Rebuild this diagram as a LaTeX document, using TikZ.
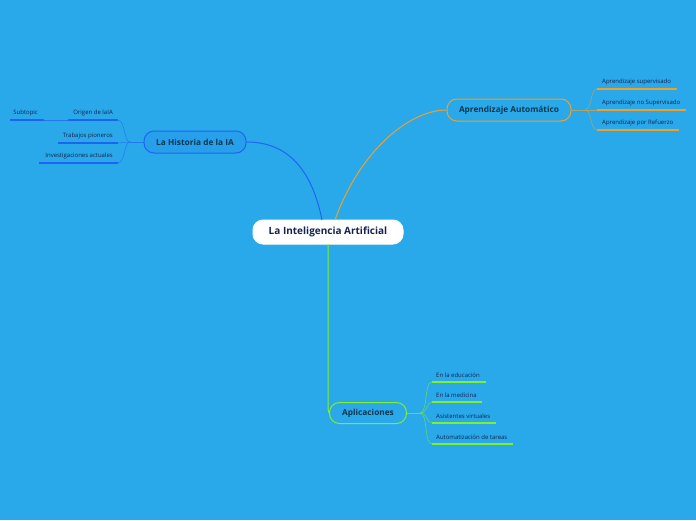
\documentclass[tikz,border=0pt]{standalone}
\usepackage{fontspec}
\setmainfont{Open Sans}
\definecolor{bgblue}{RGB}{41,169,234}
\definecolor{histblue}{RGB}{30,100,240}
\definecolor{aprorange}{RGB}{240,160,40}
\definecolor{apgreen}{RGB}{130,240,40}
\definecolor{navytext}{RGB}{20,35,80}
\definecolor{tealtext}{RGB}{10,55,80}
\begin{document}
\begin{tikzpicture}
[x=1pt,y=-1pt,%
  topic/.style={shape=rectangle,rounded corners=10pt,line width=1pt,minimum height=22pt,
    inner xsep=6pt,text=tealtext,font=\fontsize{8.3}{10}\selectfont\bfseries},%
  sub/.style={inner sep=1pt,text=navytext,font=\fontsize{6}{7}\selectfont},%
  subl/.style={sub,anchor=south east},%
  subr/.style={sub,anchor=south west},%
  uline/.style={line width=1.4pt},%
  twig/.style={line width=0.5pt,opacity=0.7}]
\fill[bgblue] (0,0) rectangle (696,520);
% central topic
\node[topic,fill=white,draw=white,minimum width=150pt,minimum height=24pt,
  text=navytext,font=\fontsize{10}{12}\selectfont\bfseries] (ia) at (328,232) {La Inteligencia Artificial};
% main topics
\node[topic,draw=histblue,fill=bgblue!85!histblue,minimum width=102pt] (hist) at (195,142) {La Historia de la IA};
\node[topic,draw=aprorange,fill=bgblue,minimum width=124pt] (apr) at (509,110) {Aprendizaje Automático};
\node[topic,draw=apgreen,fill=bgblue,minimum width=77pt,minimum height=21pt] (apl) at (368,413) {Aplicaciones};
\coordinate (iah) at (322,220);
\coordinate (iaa) at (335,220);
\coordinate (iap) at (328,244);
\draw[histblue,line width=1pt] (iah) .. controls (310,160) and (280,142) .. (hist.east);
\draw[aprorange,line width=1pt] (iaa) .. controls (360,150) and (410,110) .. (apr.west);
\draw[apgreen,line width=1pt] (iap) -- (328,403) .. controls (328,410) .. (apl.west);
% La Historia de la IA
\coordinate (hb) at (130,142);
\coordinate (h1) at (118,120); \coordinate (h1s) at (68,120);
\coordinate (h2) at (118,143); \coordinate (h2s) at (58,143);
\coordinate (h3) at (118,163); \coordinate (h3s) at (39,163);
\coordinate (h0) at (44,120);  \coordinate (h0s) at (10,120);
\node[subl] (origen) at (114,117) {Origen de laIA};
\node[subl] (pion) at (114,140) {Trabajos pioneros};
\node[subl] (inv) at (114,160) {Investigaciones actuales};
\node[subl] (subt) at (39,117) {Subtopic};
\draw[histblue,twig] (hist.west) -- (hb);
\draw[histblue,twig] (hb) .. controls (124,142) and (125,120) .. (h1);
\draw[histblue,twig] (hb) .. controls (124,142) and (124,143) .. (h2);
\draw[histblue,twig] (hb) .. controls (124,142) and (125,163) .. (h3);
\draw[histblue,uline] (h1) -- (h1s);
\draw[histblue,uline] (h2) -- (h2s);
\draw[histblue,uline] (h3) -- (h3s);
\draw[histblue,twig] (h1s) -- (h0);
\draw[histblue,uline] (h0) -- (h0s);
% Aprendizaje Automatico
\coordinate (ab) at (585,110);
\coordinate (a1) at (597,89);  \coordinate (a1e) at (677,89);
\coordinate (a2) at (597,110); \coordinate (a2e) at (686,110);
\coordinate (a3) at (597,130); \coordinate (a3e) at (679,130);
\node[subr] (sup) at (601,86) {Aprendizaje supervisado};
\node[subr] (nosup) at (601,107) {Aprendizaje no Supervisado};
\node[subr] (ref) at (601,127) {Aprendizaje por Refuerzo};
\draw[aprorange,twig] (apr.east) -- (ab);
\draw[aprorange,twig] (ab) .. controls (592,110) and (590,89) .. (a1);
\draw[aprorange,twig] (ab) -- (a2);
\draw[aprorange,twig] (ab) .. controls (592,110) and (590,130) .. (a3);
\draw[aprorange,uline] (a1) -- (a1e);
\draw[aprorange,uline] (a2) -- (a2e);
\draw[aprorange,uline] (a3) -- (a3e);
% Aplicaciones
\coordinate (pb) at (420,413);
\coordinate (p1) at (432,382); \coordinate (p1e) at (486,382);
\coordinate (p2) at (432,402); \coordinate (p2e) at (482,402);
\coordinate (p3) at (432,423); \coordinate (p3e) at (496,423);
\coordinate (p4) at (432,444); \coordinate (p4e) at (513,444);
\node[subr] (edu) at (435,379) {En la educación};
\node[subr] (med) at (435,399) {En la medicina};
\node[subr] (asis) at (435,420) {Asistentes virtuales};
\node[subr] (auto) at (435,441) {Automatización de tareas};
\draw[apgreen,twig] (apl.east) -- (pb);
\draw[apgreen,twig] (pb) .. controls (428,413) and (424,382) .. (p1);
\draw[apgreen,twig] (pb) .. controls (428,413) and (426,402) .. (p2);
\draw[apgreen,twig] (pb) .. controls (428,413) and (426,423) .. (p3);
\draw[apgreen,twig] (pb) .. controls (428,413) and (424,444) .. (p4);
\draw[apgreen,uline] (p1) -- (p1e);
\draw[apgreen,uline] (p2) -- (p2e);
\draw[apgreen,uline] (p3) -- (p3e);
\draw[apgreen,uline] (p4) -- (p4e);
\end{tikzpicture}
\end{document}
